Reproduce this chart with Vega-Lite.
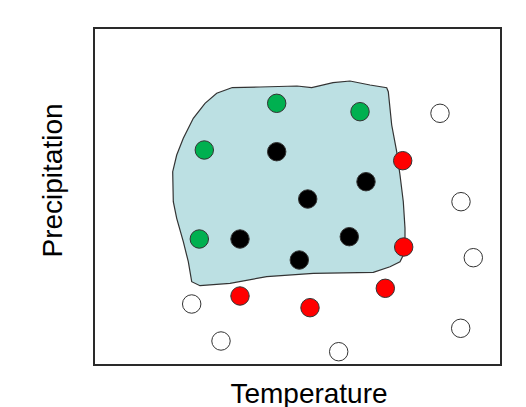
{
  "$schema": "https://vega.github.io/schema/vega-lite/v6.json",
  "width": 407,
  "height": 337,
  "autosize": "none",
  "padding": {"left": 94, "top": 28, "right": 25, "bottom": 42},
  "background": "white",
  "config": {
    "view": {"stroke": "#2a2a2a", "strokeWidth": 2},
    "font": "Liberation Sans"
  },
  "datasets": {
    "zone": [
      {"i": 0, "x": 137.7, "y": 277.3},
      {"i": 1, "x": 166, "y": 278},
      {"i": 2, "x": 203, "y": 279},
      {"i": 3, "x": 217.7, "y": 277.3},
      {"i": 4, "x": 239, "y": 282.3},
      {"i": 5, "x": 256, "y": 284},
      {"i": 6, "x": 276, "y": 280},
      {"i": 7, "x": 292.7, "y": 277.3},
      {"i": 8, "x": 294.3, "y": 273.3},
      {"i": 9, "x": 297.7, "y": 240},
      {"i": 10, "x": 302.7, "y": 213.3},
      {"i": 11, "x": 306, "y": 190},
      {"i": 12, "x": 309.3, "y": 163.3},
      {"i": 13, "x": 311, "y": 136.7},
      {"i": 14, "x": 311, "y": 113.3},
      {"i": 15, "x": 306, "y": 103.3},
      {"i": 16, "x": 296, "y": 98.3},
      {"i": 17, "x": 279.3, "y": 92.7},
      {"i": 18, "x": 219.3, "y": 91.7},
      {"i": 19, "x": 172.7, "y": 88.3},
      {"i": 20, "x": 136, "y": 81.7},
      {"i": 21, "x": 106, "y": 79.3},
      {"i": 22, "x": 97.7, "y": 83.3},
      {"i": 23, "x": 94.3, "y": 103.3},
      {"i": 24, "x": 89.3, "y": 123.3},
      {"i": 25, "x": 82.7, "y": 146.7},
      {"i": 26, "x": 79.3, "y": 163.3},
      {"i": 27, "x": 78.7, "y": 193.3},
      {"i": 28, "x": 82.7, "y": 210},
      {"i": 29, "x": 89.3, "y": 226.7},
      {"i": 30, "x": 99.3, "y": 246.7},
      {"i": 31, "x": 111, "y": 261.7},
      {"i": 32, "x": 122.7, "y": 271.7},
      {"i": 33, "x": 137.7, "y": 277.3}
    ],
    "pts": [
      {"x": 182.7, "y": 261.7, "group": "green"},
      {"x": 266, "y": 253.3, "group": "green"},
      {"x": 110.3, "y": 215, "group": "green"},
      {"x": 105.3, "y": 126, "group": "green"},
      {"x": 182.7, "y": 213.3, "group": "black"},
      {"x": 272, "y": 183.3, "group": "black"},
      {"x": 213.7, "y": 166, "group": "black"},
      {"x": 146, "y": 126, "group": "black"},
      {"x": 255.3, "y": 128.3, "group": "black"},
      {"x": 205.3, "y": 105, "group": "black"},
      {"x": 308.7, "y": 204.3, "group": "red"},
      {"x": 309.7, "y": 118, "group": "red"},
      {"x": 291.3, "y": 76.7, "group": "red"},
      {"x": 146, "y": 69, "group": "red"},
      {"x": 216, "y": 57.3, "group": "red"},
      {"x": 346, "y": 251.7, "group": "white"},
      {"x": 367, "y": 163.3, "group": "white"},
      {"x": 379.3, "y": 107.3, "group": "white"},
      {"x": 97.7, "y": 61, "group": "white"},
      {"x": 366.7, "y": 36.7, "group": "white"},
      {"x": 127, "y": 24, "group": "white"},
      {"x": 244.7, "y": 13.3, "group": "white"}
    ]
  },
  "encoding": {
    "x": {
      "field": "x",
      "type": "quantitative",
      "scale": {"domain": [0, 407], "nice": false, "zero": false},
      "axis": {
        "title": "Temperature",
        "labels": false,
        "ticks": false,
        "domain": false,
        "grid": false,
        "titleFontSize": 28,
        "titleFontWeight": "normal",
        "titleColor": "black",
        "titleX": 214.5,
        "titleY": 37,
        "titleAlign": "center",
        "titleBaseline": "alphabetic"
      }
    },
    "y": {
      "field": "y",
      "type": "quantitative",
      "scale": {"domain": [0, 337], "nice": false, "zero": false},
      "axis": {
        "title": "Precipitation",
        "labels": false,
        "ticks": false,
        "domain": false,
        "grid": false,
        "titleFontSize": 28,
        "titleFontWeight": "normal",
        "titleColor": "black",
        "titleX": -32.5,
        "titleY": 152,
        "titleAngle": -90,
        "titleAlign": "center",
        "titleBaseline": "alphabetic"
      }
    }
  },
  "layer": [
    {
      "data": {"name": "zone"},
      "mark": {"type": "line", "fill": "#bce0e3", "stroke": "#333333", "strokeWidth": 1.2, "interpolate": "linear"},
      "encoding": {
        "order": {"field": "i", "type": "quantitative"}
      }
    },
    {
      "data": {"name": "pts"},
      "mark": {"type": "point", "shape": "circle", "filled": true, "size": 340, "stroke": "#333333", "strokeWidth": 1, "opacity": 1},
      "encoding": {
        "fill": {
          "field": "group",
          "type": "nominal",
          "scale": {"domain": ["green", "black", "red", "white"], "range": ["#00b050", "#000000", "#ff0000", "#ffffff"]},
          "legend": null
        }
      }
    }
  ]
}
